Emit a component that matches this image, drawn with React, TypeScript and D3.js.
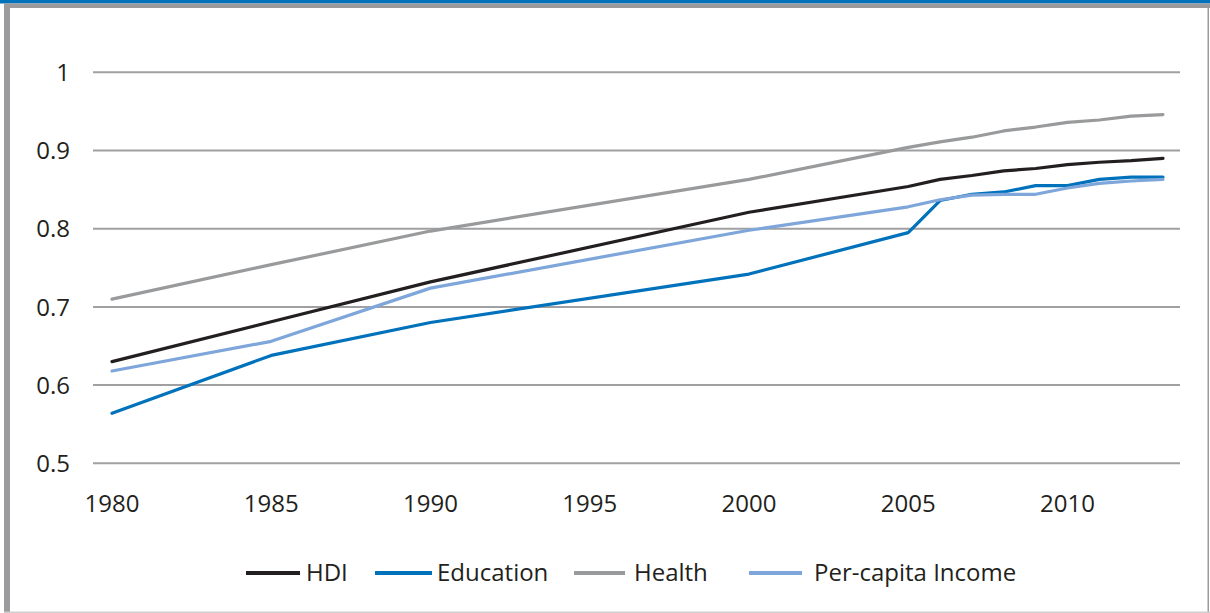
import React from "react";
import * as d3 from "d3";

const years = [1980, 1985, 1990, 2000, 2005, 2006, 2007, 2008, 2009, 2010, 2011, 2012, 2013];
const hdi = [0.630, 0.681, 0.732, 0.821, 0.854, 0.863, 0.868, 0.874, 0.877, 0.882, 0.885, 0.887, 0.890];
const education = [0.564, 0.638, 0.680, 0.742, 0.795, 0.836, 0.844, 0.847, 0.855, 0.855, 0.863, 0.866, 0.866];
const health = [0.710, 0.754, 0.797, 0.863, 0.904, 0.911, 0.917, 0.925, 0.930, 0.936, 0.939, 0.944, 0.946];
const income = [0.618, 0.656, 0.724, 0.798, 0.828, 0.837, 0.843, 0.844, 0.844, 0.852, 0.858, 0.861, 0.863];

const xTicks = [1980, 1985, 1990, 1995, 2000, 2005, 2010];
const yTicks = [0.5, 0.6, 0.7, 0.8, 0.9, 1];

const seriesNames = ["HDI", "Education", "Health", "Per-capita Income"];
const seriesColors = ["#231f20", "#0072bc", "#999a9c", "#7ea6da"];
const seriesValues = [hdi, education, health, income];

const W = 1210;
const H = 613;
const FONT = "'Open Sans', sans-serif";

export default function App() {
  const x = d3.scaleLinear().domain([1980, 2013]).range([112, 1163]);
  const y = d3.scaleLinear().domain([0.5, 1]).range([463.3, 72.3]);
  const line = d3
    .line<[number, number]>()
    .x((d) => x(d[0]))
    .y((d) => y(d[1]));

  const legendLayout = [
    { x1: 246, x2: 300, tx: 306 },
    { x1: 375, x2: 432, tx: 437 },
    { x1: 574, x2: 625, tx: 634 },
    { x1: 749, x2: 802, tx: 814 },
  ];

  return (
    <div style={{ position: "absolute", left: 0, top: 0 }}>
      <svg width={W} height={H} style={{ display: "block" }}>
        <rect x={0} y={0} width={W} height={H} fill="#ffffff" />
        {/* frame */}
        <rect x={0} y={0} width={W} height={3.5} fill="#0072bc" />
        <rect x={4} y={3.5} width={W - 4} height={4.5} fill="#9b9b9d" />
        <rect x={4} y={3.5} width={6} height={H - 3.5} fill="#9b9b9d" />
        <rect x={1207.5} y={3.5} width={1.5} height={H - 3.5} fill="#9b9b9d" />
        <rect x={4} y={611.5} width={W - 4} height={1.5} fill="#cfcfcf" />

        {/* grid */}
        {yTicks.map((t) => (
          <g key={t}>
            <line x1={93} x2={1180} y1={y(t)} y2={y(t)} stroke="#a0a0a2" strokeWidth={2} />
            <text
              x={70}
              y={y(t)}
              dy="0.36em"
              textAnchor="end"
              fontFamily={FONT}
              fontSize={24}
              fill="#231f20"
            >
              {String(t)}
            </text>
          </g>
        ))}

        {xTicks.map((t) => (
          <text
            key={t}
            x={x(t)}
            y={512}
            textAnchor="middle"
            fontFamily={FONT}
            fontSize={24}
            fill="#231f20"
          >
            {t}
          </text>
        ))}

        {/* lines (draw health, hdi, income, education order similar to source) */}
        {[0, 1, 2, 3].map((i) => (
          <path
            key={seriesNames[i]}
            d={line(years.map((yr, j) => [yr, seriesValues[i][j]] as [number, number])) || ""}
            fill="none"
            stroke={seriesColors[i]}
            strokeWidth={3.2}
            strokeLinejoin="round"
            strokeLinecap="round"
          />
        ))}

        {/* legend */}
        {seriesNames.map((n, i) => (
          <g key={n}>
            <line
              x1={legendLayout[i].x1}
              x2={legendLayout[i].x2}
              y1={573}
              y2={573}
              stroke={seriesColors[i]}
              strokeWidth={4}
            />
            <text
              x={legendLayout[i].tx}
              y={581}
              fontFamily={FONT}
              fontSize={24}
              fill="#231f20"
            >
              {n}
            </text>
          </g>
        ))}
      </svg>
    </div>
  );
}
